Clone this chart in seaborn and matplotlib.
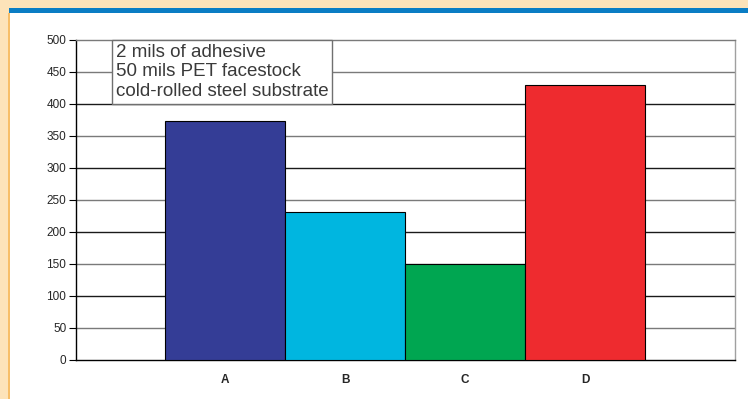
import matplotlib
matplotlib.use("Agg")
import matplotlib.pyplot as plt
import seaborn as sns
import pandas as pd
from matplotlib.patches import Rectangle

# Data
categories = ["A", "B", "C", "D"]
values = [373, 232, 150, 430]
bar_colors = ["#343D96", "#00B6E0", "#00A651", "#EE2B2F"]
y_ticks = [0, 50, 100, 150, 200, 250, 300, 350, 400, 450, 500]
note_lines = ["2 mils of adhesive", "50 mils PET facestock", "cold-rolled steel substrate"]

df = pd.DataFrame({"sample": categories, "value": values})

sns.set_theme(style="white")
plt.rcParams["font.family"] = ["Liberation Sans", "DejaVu Sans"]

W, H = 748, 399
fig = plt.figure(figsize=(W / 100, H / 100), dpi=100)
fig.patch.set_facecolor("#FDE3B9")

# page frame: white panel, blue header stripe, orange left rule
for rect in [
    Rectangle((9 / W, 0), 1 - 9 / W, (H - 13) / H, facecolor="white"),
    Rectangle((9 / W, (H - 13) / H), 1 - 9 / W, 5 / H, facecolor="#0A7DC4"),
    Rectangle((8 / W, 0), 2 / W, (H - 13) / H, facecolor="#F7BE68"),
]:
    rect.set_transform(fig.transFigure)
    rect.set_edgecolor("none")
    rect.set_zorder(-5)
    fig.patches.append(rect)

ax = fig.add_axes([76 / W, (H - 360) / H, 659 / W, 320 / H])
ax.set_facecolor("white")

sns.barplot(data=df, x="sample", y="value", hue="sample", palette=bar_colors,
            saturation=1, width=1.0, edgecolor="black", linewidth=0.8,
            legend=False, ax=ax, zorder=3)

ax.set_xlim(-1.242, 4.25)
ax.set_ylim(0, 500)
ax.set_yticks(y_ticks)
ax.set_yticklabels([str(v) for v in y_ticks], fontsize=8.5)
ax.yaxis.grid(False)
# horizontal rules: hundreds darker, half-steps grey
for v in y_ticks[1:-1]:
    ax.axhline(v, color="#1a1a1a" if v % 100 == 0 else "#7a7a7a",
               linewidth=1.0, zorder=1)
ax.tick_params(axis="y", direction="out", length=5, width=0.8, color="black",
               pad=2, left=True)
ax.tick_params(axis="x", length=0, pad=10)
for lbl in ax.get_xticklabels():
    lbl.set_fontweight("bold")
    lbl.set_fontsize(8.5)
ax.set_xlabel("")
ax.set_ylabel("")

for side in ["left", "bottom"]:
    ax.spines[side].set_color("black")
    ax.spines[side].set_linewidth(1.0)
ax.spines["right"].set_color("#a0a0a0")
ax.spines["right"].set_linewidth(1.0)
ax.spines["top"].set_color("#7a7a7a")
ax.spines["top"].set_linewidth(1.0)

# annotation box with test conditions
fig.text(116 / W, (H - 100) / H, "\n".join(note_lines), fontsize=13.5,
         color="#3a3a3a", linespacing=1.2, va="bottom", ha="left",
         bbox=dict(boxstyle="square,pad=0.2", facecolor="white",
                   edgecolor="#707070", linewidth=1.0), zorder=5)

fig.savefig("out.png", dpi=100, facecolor=fig.get_facecolor())
